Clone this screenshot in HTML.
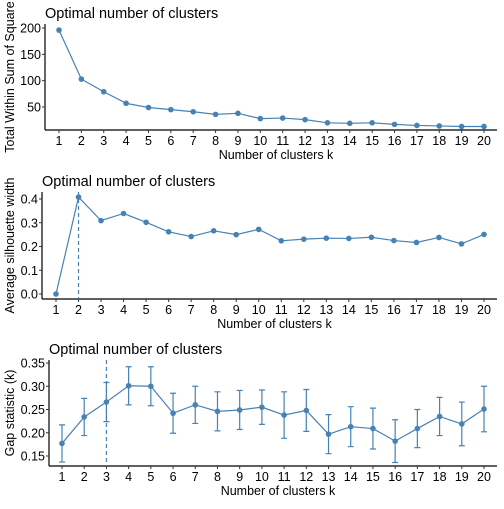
<!DOCTYPE html>
<html><head><meta charset="utf-8"><style>
body{margin:0;background:#fff}
svg text{font-family:"Liberation Sans",Arial,sans-serif;fill:#000}
</style></head><body>
<svg id="s" width="504" height="504" xmlns="http://www.w3.org/2000/svg"></svg>
<script>
const ks=[1,2,3,4,5,6,7,8,9,10,11,12,13,14,15,16,17,18,19,20];
const wss=[196,103,79,57,49,45,41,36,38,28,29,26,20,19,20,17,15,14,13,13];
const wssTicks=[50,100,150,200];
const sil=[0,0.408,0.309,0.339,0.302,0.262,0.242,0.266,0.250,0.272,0.224,0.231,0.235,0.234,0.239,0.225,0.217,0.238,0.211,0.251];
const silTicks=[0,0.1,0.2,0.3,0.4];
const silOpt=2;
const gap=[0.177,0.234,0.266,0.301,0.300,0.242,0.260,0.246,0.249,0.255,0.238,0.248,0.197,0.213,0.209,0.182,0.209,0.235,0.219,0.251];
const gapSe=[0.040,0.040,0.042,0.041,0.042,0.043,0.040,0.042,0.042,0.037,0.050,0.045,0.042,0.043,0.044,0.046,0.041,0.041,0.047,0.049];
const gapTicks=[0.15,0.20,0.25,0.30,0.35];
const gapOpt=3;

const S=document.getElementById('s');
const NS='http://www.w3.org/2000/svg';
const C='#4682B4';
function mk(tag,at,txt){const e=document.createElementNS(NS,tag);for(const k in at)e.setAttribute(k,at[k]);if(txt!==undefined)e.textContent=txt;S.appendChild(e);return e;}

function panel(o){
  const xs=k=>o.x1+(k-1)*(o.x20-o.x1)/19;
  const ys=v=>o.yA+(o.vA-v)*(o.yB-o.yA)/(o.vA-o.vB);
  let e=mk('text',{x:o.left,y:o.titleY,'font-size':14.5},'Optimal number of clusters');
  
  e=mk('line',{x1:o.left,y1:o.top,x2:o.left,y2:o.bottom,stroke:'#000','stroke-width':1.2});
  
  e=mk('line',{x1:o.left,y1:o.bottom,x2:497,y2:o.bottom,stroke:'#000','stroke-width':1.2});
  
  o.ticks.forEach(t=>{const y=ys(t);
    mk('line',{x1:o.left-3,y1:y,x2:o.left,y2:y,stroke:'#333'});
    e=mk('text',{x:o.left-4,y:y+4.5,'font-size':12.5,'text-anchor':'end'},o.fmt(t));
    });
  ks.forEach(k=>{const x=xs(k);
    mk('line',{x1:x,y1:o.bottom,x2:x,y2:o.bottom+3,stroke:'#333'});
    e=mk('text',{x:x,y:o.bottom+15,'font-size':12.5,'text-anchor':'middle'},k);
    });
  e=mk('text',{x:(o.left+497)/2+5,y:o.bottom+29,'font-size':12.5,'text-anchor':'middle'},'Number of clusters k');
  
  const cy=(o.top+o.bottom)/2;
  e=mk('text',{x:0,y:0,'font-size':12.5,'text-anchor':'middle',transform:`translate(${o.ylx},${cy}) rotate(-90)`},o.ylab);
  
  if(o.opt){e=mk('line',{x1:xs(o.opt),y1:o.top,x2:xs(o.opt),y2:o.bottom,stroke:C,'stroke-dasharray':'4,3','stroke-width':1.2});
    }
  if(o.se){o.vals.forEach((v,i)=>{const x=xs(ks[i]),a=ys(v-o.se[i]),b=ys(v+o.se[i]);
    e=mk('path',{d:`M${x-3},${a}H${x+3}M${x},${a}V${b}M${x-3},${b}H${x+3}`,stroke:C,fill:'none','stroke-width':1.2});
    });}
  e=mk('polyline',{points:o.vals.map((v,i)=>xs(ks[i])+','+ys(v)).join(' '),fill:'none',stroke:C,'stroke-width':1.2});
  
  o.vals.forEach((v,i)=>{e=mk('circle',{cx:xs(ks[i]),cy:ys(v),r:2.8,fill:C});
    });
}
panel({p:'wss',left:45,top:24,bottom:130,x1:59,x20:484,yA:28,vA:200,yB:107,vB:50,titleY:18,ylx:14,
  ticks:wssTicks,fmt:t=>String(t),vals:wss,ylab:'Total Within Sum of Square'});
panel({p:'silhouette',left:42,top:192,bottom:299,x1:56,x20:484,yA:199,vA:0.4,yB:294,vB:0,titleY:186,ylx:14,
  ticks:silTicks,fmt:t=>t.toFixed(1),vals:sil,ylab:'Average silhouette width',opt:silOpt});
panel({p:'gap',left:49,top:360,bottom:466,x1:62,x20:484,yA:363,vA:0.35,yB:456,vB:0.15,titleY:354,ylx:14,
  ticks:gapTicks,fmt:t=>t.toFixed(2),vals:gap,se:gapSe,ylab:'Gap statistic (k)',opt:gapOpt});
</script>
</body></html>
